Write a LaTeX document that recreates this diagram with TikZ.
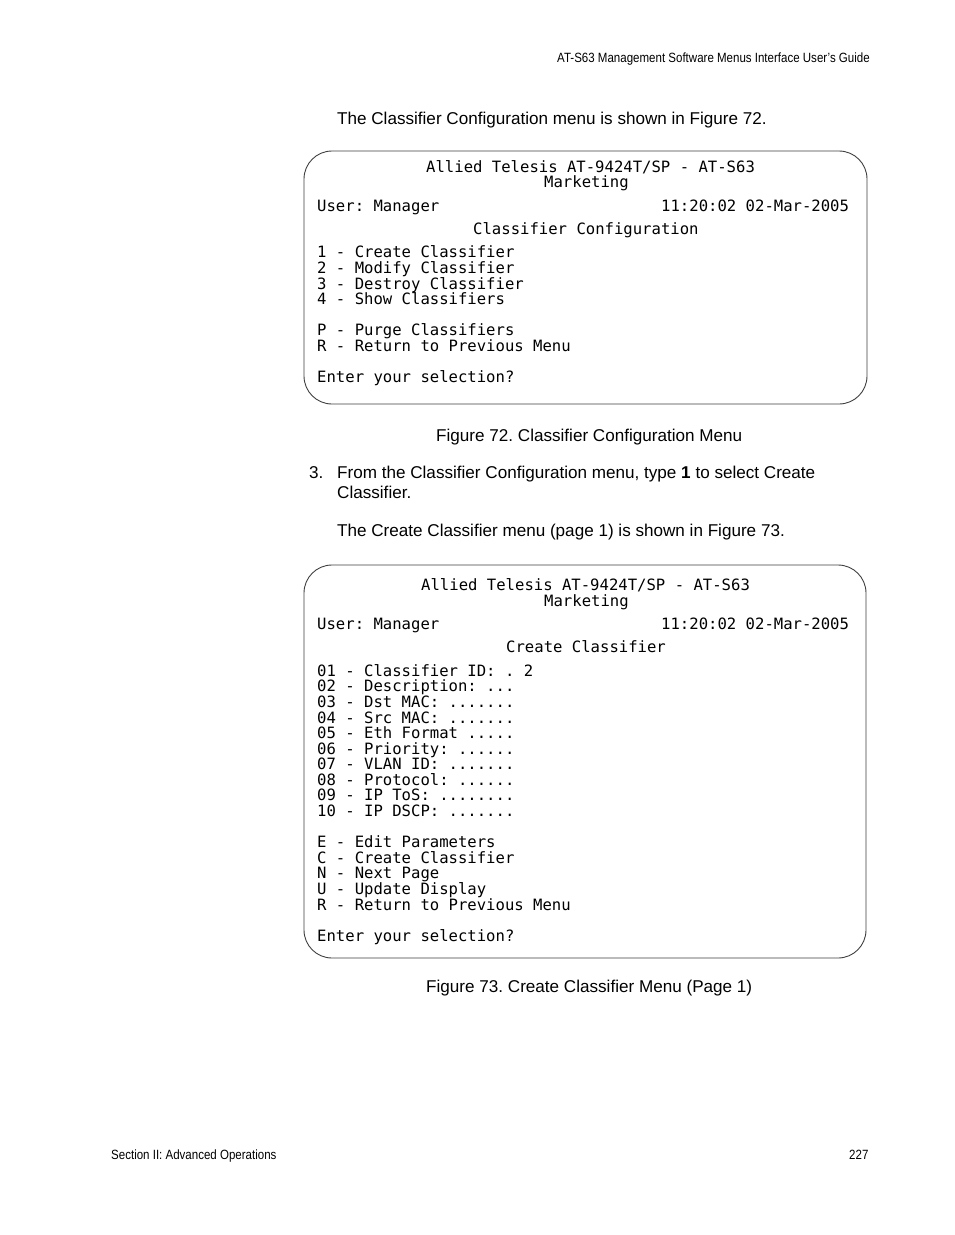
\documentclass[tikz,border=0pt]{standalone}
\usepackage{fontspec}
\setmainfont{Liberation Sans}
\newfontfamily\termfont{DejaVu Sans Mono}
\newfontfamily\narrowfont[FakeStretch=0.86]{Liberation Sans}
\frenchspacing
\tikzset{
  bodytext/.style={anchor=base west,inner sep=0pt,font=\fontsize{17.1}{20}\selectfont},
  termtext/.style={anchor=base west,inner sep=0pt,font=\termfont\fontsize{15.6}{16}\selectfont},
  pagetext/.style={anchor=base west,inner sep=0pt,font=\narrowfont\fontsize{13.4}{16}\selectfont},
  screenbox/.style={draw=black!75,line width=0.9pt,rounded corners=28pt}
}
\begin{document}
\begin{tikzpicture}[x=1pt,y=-1pt]
  \useasboundingbox (0,0) rectangle (954,1235);
  \fill[white] (0,0) rectangle (954,1235);

  % screens
  \draw[screenbox] (304,151) rectangle (867,404);
  \draw[screenbox] (304,565) rectangle (866,958);

  % page text
  \def \Page {
    a/557/62/{AT-S63 Management Software Menus Interface User’s Guide},
    b/111/1159/{Section II: Advanced Operations},
    c/849/1159/{227}}
  \foreach \id / \x / \y / \t in \Page {
    \node[pagetext] (page\id) at (\x,\y) {\t};
  }

  \def \Body {
    a/337/124/{The Classifier Configuration menu is shown in Figure 72.},
    b/436/441/{Figure 72. Classifier Configuration Menu},
    c/309/478/{3.},
    d/337/478/{From the Classifier Configuration menu, type \textbf{1} to select Create},
    e/337/498/{Classifier.},
    f/337/536/{The Create Classifier menu (page 1) is shown in Figure 73.},
    g/426/992/{Figure 73. Create Classifier Menu (Page 1)}}
  \foreach \id / \x / \y / \t in \Body {
    \node[bodytext] (body\id) at (\x,\y) {\t};
  }

  % first screen
  \def \First {
    a/426/172/{Allied Telesis AT-9424T/SP - AT-S63},
    b/544/187/{Marketing},
    c/317/211/{User: Manager},
    d/661/211/{11:20:02 02-Mar-2005},
    e/473/234/{Classifier Configuration},
    f/317/257/{1 - Create Classifier},
    g/317/273/{2 - Modify Classifier},
    h/317/289/{3 - Destroy Classifier},
    i/317/304/{4 - Show Classifiers},
    j/317/335/{P - Purge Classifiers},
    k/317/351/{R - Return to Previous Menu},
    l/317/382/{Enter your selection?}}
  \foreach \id / \x / \y / \t in \First {
    \node[termtext] (first\id) at (\x,\y) {\t};
  }

  % second screen
  \def \Second {
    a/421/590/{Allied Telesis AT-9424T/SP - AT-S63},
    b/544/606/{Marketing},
    c/317/629/{User: Manager},
    d/661/629/{11:20:02 02-Mar-2005},
    e/506/652/{Create Classifier},
    f/317/676/{01 - Classifier ID: . 2},
    g/317/691/{02 - Description: ...},
    h/317/707/{03 - Dst MAC: .......},
    i/317/723/{04 - Src MAC: .......},
    j/317/738/{05 - Eth Format .....},
    k/317/754/{06 - Priority: ......},
    l/317/769/{07 - VLAN ID: .......},
    m/317/785/{08 - Protocol: ......},
    n/317/800/{09 - IP ToS: ........},
    o/317/816/{10 - IP DSCP: .......},
    p/317/847/{E - Edit Parameters},
    q/317/863/{C - Create Classifier},
    r/317/878/{N - Next Page},
    s/317/894/{U - Update Display},
    t/317/910/{R - Return to Previous Menu},
    u/317/941/{Enter your selection?}}
  \foreach \id / \x / \y / \t in \Second {
    \node[termtext] (second\id) at (\x,\y) {\t};
  }
\end{tikzpicture}
\end{document}
